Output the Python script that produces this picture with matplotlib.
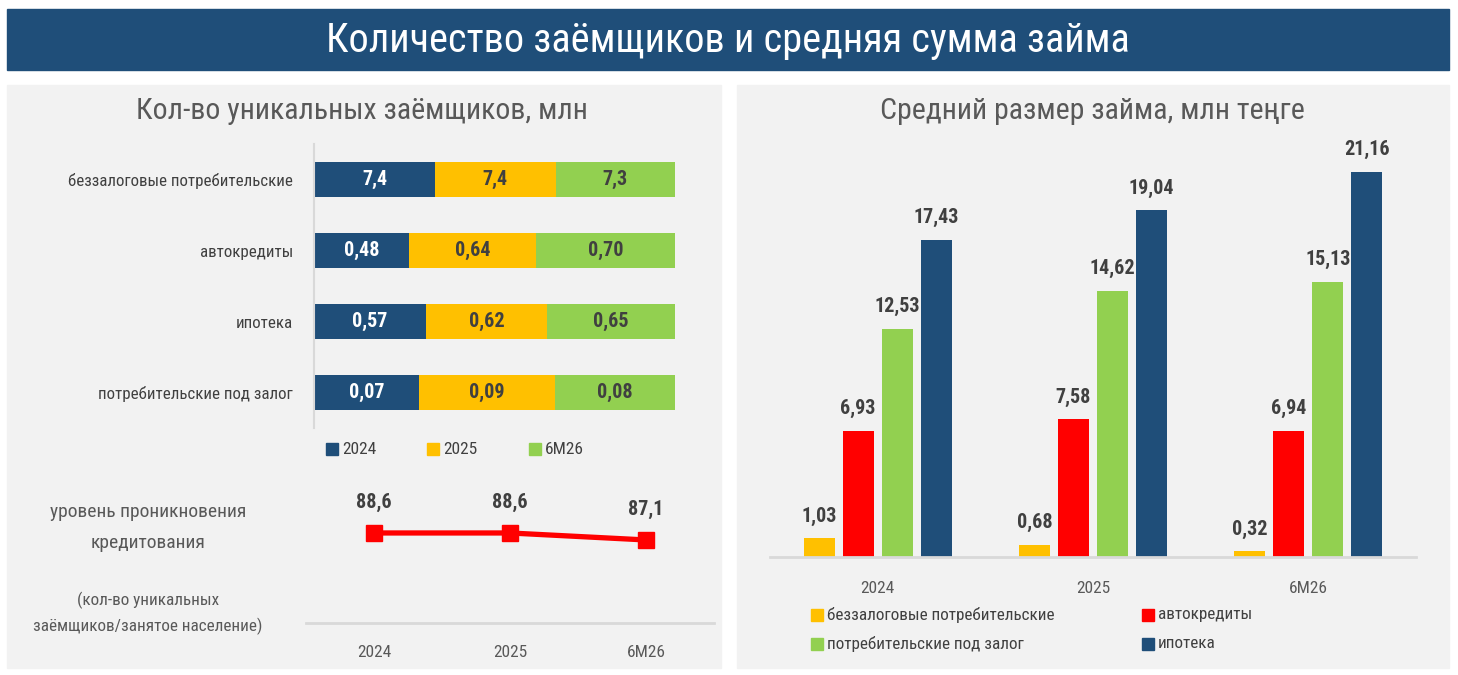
import matplotlib
matplotlib.use("Agg")
import matplotlib.pyplot as plt
from matplotlib import font_manager as fm
from matplotlib.patches import Rectangle
import numpy as np

# ---------------- data ----------------
categories = ['беззалоговые потребительские', 'автокредиты', 'ипотека', 'потребительские под залог']
borrowers_2024 = [7.4, 0.48, 0.57, 0.07]
borrowers_2025 = [7.4, 0.64, 0.62, 0.09]
borrowers_6m26 = [7.3, 0.70, 0.65, 0.08]
label_decimals = [1, 2, 2, 2]

periods = ['2024', '2025', '6М26']
penetration = [88.6, 88.6, 87.1]

loan_unsecured = [1.03, 0.68, 0.32]
loan_auto = [6.93, 7.58, 6.94]
loan_secured = [12.53, 14.62, 15.13]
loan_mortgage = [17.43, 19.04, 21.16]
loan_series_names = ['беззалоговые потребительские', 'автокредиты', 'потребительские под залог', 'ипотека']

# ---------------- style ----------------
NAVY = '#1F4E79'
YELLOW = '#FFC000'
GREEN = '#92D050'
RED = '#FF0000'
PANEL = '#F2F2F2'
DARK = '#404040'
GRAY = '#595959'

names = {f.name for f in fm.fontManager.ttflist}
FONT = 'DejaVu Sans'
STRETCH = 'normal'
for n in ['Roboto Condensed', 'Liberation Sans Narrow', 'Open Sans Condensed', 'Noto Sans Condensed', 'DejaVu Sans Condensed']:
    if n in names:
        FONT = n
        break
else:
    cond = [f for f in fm.fontManager.ttflist if str(f.stretch) in ('condensed', 'semi-condensed', '500', '300')]
    if any(f.name == 'DejaVu Sans' for f in cond):
        FONT, STRETCH = 'DejaVu Sans', 'condensed'
    elif cond:
        FONT, STRETCH = cond[0].name, 'condensed'
plt.rcParams['font.family'] = [FONT, 'DejaVu Sans']
plt.rcParams['font.stretch'] = STRETCH

W, H = 1458, 675
fig = plt.figure(figsize=(W / 100, H / 100), dpi=100)
fig.patch.set_facecolor('white')


def fx(x):
    return x / W


def fy(y):
    return 1 - y / H


def ax_px(l, t, r, b):
    a = fig.add_axes([l / W, 1 - b / H, (r - l) / W, (b - t) / H])
    a.set_zorder(2)
    return a


def rect_px(l, t, r, b, color, z=-5):
    fig.patches.append(Rectangle((fx(l), fy(b)), (r - l) / W, (b - t) / H,
                                 transform=fig.transFigure, color=color, zorder=z))


# banner and panels
rect_px(7, 9, 1449, 70, NAVY)
rect_px(7, 85, 721, 668, PANEL)
rect_px(737, 85, 1449, 668, PANEL)

fig.text(fx(728), fy(41), 'Количество заёмщиков и средняя сумма займа', color='white',
         fontsize=29, ha='center', va='center')
fig.text(fx(362), fy(111), 'Кол-во уникальных заёмщиков, млн', color=GRAY,
         fontsize=21.5, ha='center', va='center')
fig.text(fx(1092), fy(111), 'Средний размер займа, млн теңге', color=GRAY,
         fontsize=21.5, ha='center', va='center')

# ---------------- left: 100% stacked bars ----------------
ax1 = ax_px(314, 144, 675, 428)
ax1.set_facecolor('none')
data = np.array([borrowers_2024, borrowers_2025, borrowers_6m26])
totals = data.sum(axis=0)
shares = data / totals
y = np.arange(len(categories))
left = np.zeros(len(categories))
seg_colors = [NAVY, YELLOW, GREEN]
txt_colors = ['white', DARK, DARK]
for i in range(3):
    ax1.barh(y, shares[i], left=left, height=0.49, color=seg_colors[i], zorder=2)
    for j in range(len(categories)):
        s = f"{data[i, j]:.{label_decimals[j]}f}".replace('.', ',')
        ax1.text(left[j] + shares[i, j] / 2, y[j], s, ha='center', va='center',
                 color=txt_colors[i], fontsize=14.5, fontweight='bold', zorder=3)
    left += shares[i]
ax1.set_xlim(0, 1)
ax1.set_ylim(3.5, -0.5)
ax1.set_yticks(y)
ax1.set_yticklabels(categories, fontsize=12.2, color=DARK)
ax1.set_xticks([])
ax1.tick_params(axis='y', length=0, pad=15)
for s in ['top', 'right', 'bottom']:
    ax1.spines[s].set_visible(False)
ax1.spines['left'].set_color('#D9D9D9')
ax1.spines['left'].set_linewidth(1.5)

# left legend
for lx, col, lab in [(332, NAVY, periods[0]), (433, YELLOW, periods[1]), (535, GREEN, periods[2])]:
    rect_px(lx - 6, 443, lx + 6, 455, col, z=1)
    fig.text(fx(lx + 10), fy(449), lab, color=DARK, fontsize=12.5, ha='left', va='center')

# ---------------- left: penetration line ----------------
ax2 = ax_px(306, 470, 714, 623)
ax2.set_facecolor('none')
xp = np.arange(len(periods))
ax2.plot(xp, penetration, color=RED, lw=3.8, marker='s', markersize=11.5, zorder=3)
for xi, v in zip(xp, penetration):
    ax2.annotate(f"{v:.1f}".replace('.', ','), (xi, v), xytext=(0, 15), textcoords='offset points',
                 ha='center', va='bottom', fontsize=14.5, fontweight='bold', color=DARK)
ax2.set_xlim(-0.5, 2.5)
ax2.set_ylim(69.3, 102.1)
ax2.set_xticks(xp)
ax2.set_xticklabels(periods, fontsize=12.5, color=GRAY)
ax2.set_yticks([])
ax2.tick_params(axis='x', length=0, pad=16)
for s in ['top', 'right', 'left']:
    ax2.spines[s].set_visible(False)
ax2.spines['bottom'].set_color('#D9D9D9')
ax2.spines['bottom'].set_linewidth(2)

fig.text(fx(148), fy(512), 'уровень проникновения', color=GRAY, fontsize=14, ha='center', va='center')
fig.text(fx(148), fy(543), 'кредитования', color=GRAY, fontsize=14, ha='center', va='center')
fig.text(fx(148), fy(600), '(кол-во уникальных', color=GRAY, fontsize=12.3, ha='center', va='center')
fig.text(fx(148), fy(626), 'заёмщиков/занятое население)', color=GRAY, fontsize=12.3, ha='center', va='center')

# ---------------- right: grouped bars ----------------
ax3 = ax_px(770, 140, 1416, 557)
ax3.set_facecolor('none')
series = [loan_unsecured, loan_auto, loan_secured, loan_mortgage]
bar_colors = [YELLOW, RED, GREEN, NAVY]
pitch = 0.181
bw = 0.144
xg = np.arange(len(periods))
for k, (vals, col) in enumerate(zip(series, bar_colors)):
    xs = xg + (k - 1.5) * pitch
    ax3.bar(xs, vals, width=bw, color=col, zorder=2)
    for xi, v in zip(xs, vals):
        ax3.annotate(f"{v:.2f}".replace('.', ','), (xi, v), xytext=(0, 9), textcoords='offset points',
                     ha='center', va='bottom', fontsize=14.5, fontweight='bold', color=DARK)
ax3.set_xlim(-0.5, 2.5)
ax3.set_ylim(0, 417 / 18.2)
ax3.set_xticks(xg)
ax3.set_xticklabels(periods, fontsize=12.5, color=GRAY)
ax3.set_yticks([])
ax3.tick_params(axis='x', length=0, pad=17)
for s in ['top', 'right', 'left']:
    ax3.spines[s].set_visible(False)
ax3.spines['bottom'].set_color('#D9D9D9')
ax3.spines['bottom'].set_linewidth(2)

# right legend
leg_pos = [(817, 615), (1148, 615), (817, 644), (1148, 644)]
for (lx, ly), col, lab in zip(leg_pos, bar_colors, loan_series_names):
    rect_px(lx - 6, ly - 6, lx + 6, ly + 6, col, z=1)
    fig.text(fx(lx + 10), fy(ly), lab, color=DARK, fontsize=12.3, ha='left', va='center')

fig.savefig('out.png', dpi=100, facecolor='white')
